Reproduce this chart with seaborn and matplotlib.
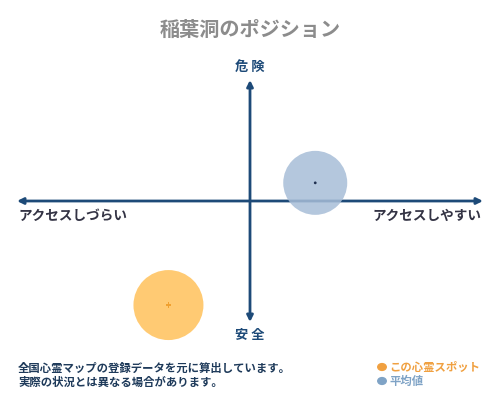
import pandas as pd
import matplotlib
matplotlib.use("Agg")
import matplotlib.pyplot as plt
import seaborn as sns

# 値（横: アクセスしづらい -100 〜 アクセスしやすい 100, 縦: 安全 -100 〜 危険 100）
categories = ["この心霊スポット", "平均値"]
x_vals = [-35, 28]
y_vals = [-86, 15]
radius_px = [35, 32]

title = "稲葉洞のポジション"
label_top = "危 険"
label_bottom = "安 全"
label_left = "アクセスしづらい"
label_right = "アクセスしやすい"
note_lines = ["全国心霊マップの登録データを元に算出しています。",
              "実際の状況とは異なる場合があります。"]

fill_colors = ["#FFC564", "#A7BDD7"]
text_colors = ["#F0A040", "#7FA3C6"]
center_colors = ["#F0A030", "#1F3050"]
navy = "#1D4A78"

sns.set_theme(style="white")
plt.rcParams["font.family"] = ["Noto Sans CJK JP", "DejaVu Sans"]

df = pd.DataFrame({"name": categories, "x": x_vals, "y": y_vals,
                   "s": [(2 * r * 0.72) ** 2 for r in radius_px]})

fig = plt.figure(figsize=(5, 4), dpi=100)
ax = fig.add_axes([17 / 500, 0.195, 466 / 500, 0.605])
ax.set_xlim(-100, 100)
ax.set_ylim(-100, 100)
ax.axis("off")

# 座標軸（矢印）
arrow = dict(arrowstyle="<|-|>", color=navy, lw=2, mutation_scale=9,
             shrinkA=0, shrinkB=0)
ax.annotate("", xy=(100, 0), xytext=(-100, 0), arrowprops=arrow)
ax.annotate("", xy=(0, 100), xytext=(0, -100), arrowprops=arrow)

# 円
for i, row in df.iterrows():
    sns.scatterplot(x=[row["x"]], y=[row["y"]], s=row["s"], color=fill_colors[i],
                    alpha=0.9 if i == 0 else 0.85, edgecolor="none", ax=ax,
                    zorder=3, legend=False, clip_on=False)
sns.scatterplot(x=[df["x"][0]], y=[df["y"][0]], marker="P", s=14,
                color=center_colors[0], edgecolor="none", ax=ax, zorder=4,
                legend=False, clip_on=False)
sns.scatterplot(x=[df["x"][1]], y=[df["y"][1]], marker="o", s=4,
                color=center_colors[1], edgecolor="none", ax=ax, zorder=4,
                legend=False, clip_on=False)


def ftext(px, py, s, **kw):
    fig.text(px / 500, 1 - py / 400, s, **kw)


ftext(250, 29, title, ha="center", va="center", fontsize=14.5,
      color="#8C8C8C", fontweight="bold")
ftext(250, 67, label_top, ha="center", va="center", fontsize=9.5,
      color=navy, fontweight="bold")
ftext(250, 335, label_bottom, ha="center", va="center", fontsize=9.5,
      color=navy, fontweight="bold")
ftext(18, 216, label_left, ha="left", va="center", fontsize=9.8,
      color="#333344", fontweight="bold")
ftext(481, 216, label_right, ha="right", va="center", fontsize=9.8,
      color="#333344", fontweight="bold")

ftext(18, 368, note_lines[0], ha="left", va="center", fontsize=8.2,
      color="#1E3A5A", fontweight="bold")
ftext(18, 382, note_lines[1], ha="left", va="center", fontsize=8.2,
      color="#1E3A5A", fontweight="bold")

# 凡例
for i, name in enumerate(categories):
    py = 367 + i * 14
    fig.patches.append(matplotlib.patches.Circle((382 / 500, 1 - py / 400), 0.0085,
                                                 transform=fig.transFigure,
                                                 color=text_colors[i], figure=fig))
    ftext(389, py, name, ha="left", va="center", fontsize=8.2,
          color=text_colors[i], fontweight="bold")

fig.savefig("out.png", dpi=100)
